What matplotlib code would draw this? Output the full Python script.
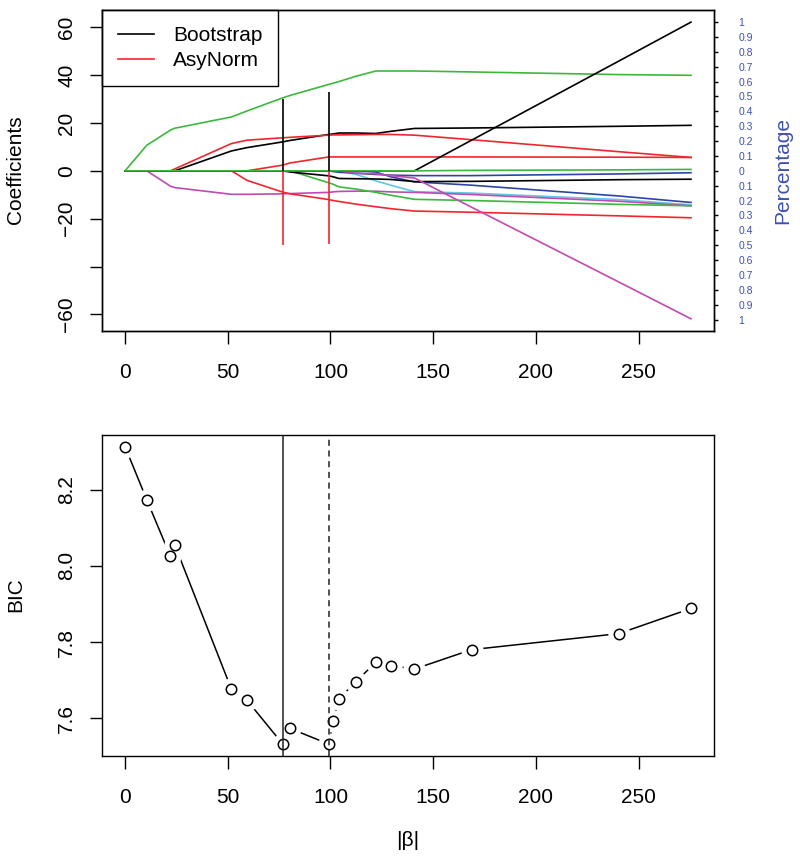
import numpy as np
import matplotlib
matplotlib.use("Agg")
import matplotlib.pyplot as plt

plt.rcParams['font.family'] = ['Liberation Sans', 'DejaVu Sans']
plt.rcParams['font.size'] = 15

# knots of the path (|beta|) and BIC at each knot
beta = [0, 10.6, 22.1, 24.2, 51.8, 59.4, 76.8, 80.4, 99.2, 101.3, 104.2,
        112.4, 122.1, 129.4, 140.9, 168.7, 240.3, 275.5]
bic = [8.313, 8.173, 8.025, 8.055, 7.676, 7.647, 7.532, 7.573, 7.532, 7.592,
       7.651, 7.696, 7.747, 7.738, 7.729, 7.780, 7.822, 7.888]

# coefficient paths
black_pos = [0, 0, 0, 0, 8.3, 9.7, 12.1, 12.7, 15.2, 15.4, 15.8, 15.8, 15.6, 16.5, 17.7, 17.9, 18.6, 19.0]
black_neg = [0, 0, 0, 0, 0, 0, 0, -0.5, -2.1, -2.5, -3.2, -3.3, -3.4, -3.6, -4.5, -4.4, -3.7, -3.5]
black_steep = [0, 0, 0, 0, 0, 0, 0, 0, 0, 0, 0, 0, 0, 0, 0, 12.8, 45.8, 62.1]
red_pos1 = [0, 0, 0, 0.8, 11.4, 12.8, 13.8, 14.0, 14.9, 15.0, 15.0, 15.1, 15.2, 15.2, 14.9, 13.0, 8.0, 5.6]
red_pos2 = [0, 0, 0, 0, 0, 0, 2.4, 3.3, 5.8, 5.8, 5.8, 5.8, 5.8, 5.8, 5.8, 5.8, 5.7, 5.6]
red_neg = [0, 0, 0, 0, 0, -4.0, -8.9, -9.6, -12.0, -12.4, -12.8, -13.9, -15.0, -15.8, -16.8, -17.3, -18.8, -19.6]
green_top = [0, 10.7, 17, 17.8, 22.5, 25, 30.5, 31.5, 36.1, 36.6, 37.3, 39.5, 41.7, 41.7, 41.7, 41.3, 40.2, 39.9]
green_neg = [0, 0, 0, 0, 0, 0, 0, 0, -5.0, -5.6, -6.7, -7.6, -9.0, -10.2, -11.9, -12.4, -14.0, -14.6]
green_zero = [0, 0, 0, 0, 0, 0, 0, 0, 0, 0, 0, 0, 0, 0, 0, 0.2, 0.4, 0.6]
blue_a = [0, 0, 0, 0, 0, 0, 0, 0, 0, -0.3, -0.6, -1.0, -1.5, -1.8, -2.0, -2.0, -1.3, -0.8]
blue_b = [0, 0, 0, 0, 0, 0, 0, 0, 0, 0, 0, 0, -0.5, -2.5, -4.6, -6.0, -10.5, -13.2]
cyan = [0, 0, 0, 0, 0, 0, 0, 0, 0, 0, 0, -1.5, -4.2, -6.0, -8.7, -9.3, -12.0, -14.2]
magenta_low = [0, 0, -6.4, -7.0, -9.8, -9.8, -9.6, -9.5, -9.0, -8.8, -8.6, -8.5, -8.5, -8.8, -9.0, -9.9, -12.7, -14.6]
magenta_steep = [0, 0, 0, 0, 0, 0, 0, 0, 0, 0, 0, -1.0, -1.2, -2.0, -3.0, -15.2, -46.4, -61.8]

# selected models and their intervals
sel_beta = [76.8, 99.2]
boot_hi = [30.0, 33.0]
asy_lo = [-31.0, -30.5]

pct_ticks = np.round(np.arange(-1, 1.01, 0.1), 1)

BLACK, RED, GREEN = '#000000', '#F0262E', '#3DB83D'
BLUE, CYAN, MAGENTA = '#2F45A5', '#5FC8E6', '#C04AB4'
AXBLUE = '#3D50B0'

paths = [(black_pos, BLACK), (red_pos1, RED), (cyan, CYAN), (blue_b, BLUE),
         (magenta_low, MAGENTA), (red_neg, RED), (green_neg, GREEN),
         (black_neg, BLACK), (blue_a, BLUE), (magenta_steep, MAGENTA),
         (red_pos2, RED), (green_top, GREEN), (black_steep, BLACK),
         (green_zero, GREEN)]

fig = plt.figure(figsize=(8, 8.56), dpi=100)
ax1 = fig.add_axes([0.128, 0.6137, 0.764, 0.3743])
ax2 = fig.add_axes([0.128, 0.1168, 0.764, 0.3754])

for ys, c in paths:
    ax1.plot(beta, ys, color=c, lw=1.2)
ax1.vlines(sel_beta, 0, boot_hi, color=BLACK, lw=1.2)
ax1.vlines(sel_beta, asy_lo, 0, color=RED, lw=1.2)
ax1.margins(x=0.04, y=0.04)
ax1.set_xticks([0, 50, 100, 150, 200, 250])
ax1.set_yticks([60, 40, 20, 0, -20, -40, -60])
ax1.set_yticklabels(['60', '40', '20', '0', '\u221220', '', '\u221260'])

leg = ax1.legend([plt.Line2D([], [], color=BLACK, lw=1.2),
                  plt.Line2D([], [], color=RED, lw=1.2)],
                 ['Bootstrap', 'AsyNorm'], loc='upper left',
                 bbox_to_anchor=(0, 1), borderaxespad=0, fancybox=False,
                 framealpha=1, edgecolor='black', handlelength=1.75,
                 handletextpad=0.9, borderpad=0.75, labelspacing=0.3)
leg.get_frame().set_linewidth(1.0)

ax1r = ax1.twinx()
lo, hi = ax1.get_ylim()
scale = max(abs(v) for v in black_steep + magenta_steep)
ax1r.set_ylim(lo / scale, hi / scale)
ax1r.set_yticks(pct_ticks)
ax1r.set_yticklabels([f"{abs(v):g}" for v in pct_ticks], color=AXBLUE, fontsize=7.5)
ax1r.tick_params(axis='y', length=3, width=1, pad=15)

# BIC panel
ax2.plot(beta, bic, color='black', lw=1.1, zorder=2)
ax2.plot(beta, bic, ls='none', marker='o', ms=16, mfc='white', mec='none', zorder=2.1)
ax2.plot(beta, bic, ls='none', marker='o', ms=7.5, mfc='white', mec='black', mew=1.1, zorder=3)
ax2.axvline(sel_beta[0], color='#222222', lw=1.1, zorder=4)
ax2.axvline(sel_beta[1], color='#222222', lw=1.1, ls=(0, (4, 3)), zorder=4)
ax2.margins(x=0.04, y=0.04)
ax2.set_xlim(ax1.get_xlim())
ax2.set_xticks([0, 50, 100, 150, 200, 250])
ax2.set_yticks([7.6, 7.8, 8.0, 8.2])
ax2.set_yticklabels(['7.6', '7.8', '8.0', '8.2'])

for a in (ax1, ax2):
    for s in a.spines.values():
        s.set_linewidth(1.0)
    a.tick_params(axis='x', direction='out', length=9, width=1, pad=14)
    a.tick_params(axis='y', direction='out', length=9, width=1, pad=10)
    for t in a.get_yticklabels():
        t.set_rotation(90)
        t.set_va('center')
for s in ax1r.spines.values():
    s.set_linewidth(1.0)

fig.text(16 / 800, 1 - 170 / 856, 'Coefficients', rotation=90, ha='center', va='center')
fig.text(16 / 800, 1 - 595 / 856, 'BIC', rotation=90, ha='center', va='center')
fig.text(783 / 800, 1 - 170 / 856, 'Percentage', rotation=90, ha='center', va='center', color=AXBLUE)
fig.text(408 / 800, 1 - 840 / 856, '|\u03b2|', ha='center', va='center')

fig.savefig('out.png', dpi=100)
